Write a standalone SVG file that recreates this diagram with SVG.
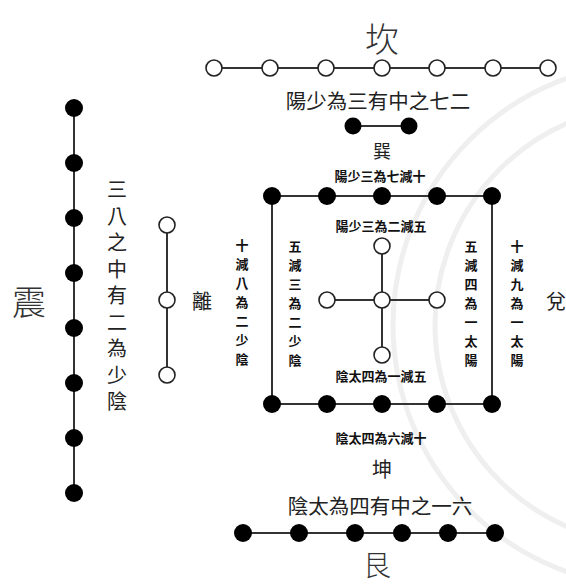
<svg xmlns="http://www.w3.org/2000/svg" width="566" height="586" viewBox="0 0 566 586">
<style>
.ln{stroke:#333;stroke-width:2;fill:none}
.o{fill:#fff;stroke:#222;stroke-width:1.6}
.f{fill:#000;stroke:none}
.big{font-family:"Noto Sans CJK TC","Noto Sans CJK SC",sans-serif;font-weight:300;fill:#333;text-anchor:middle;dominant-baseline:central}
.mid{font-family:"Noto Sans CJK TC","Noto Sans CJK SC",sans-serif;font-weight:400;fill:#222;text-anchor:middle;dominant-baseline:central}
.sm{font-family:"Noto Sans CJK TC","Noto Sans CJK SC",sans-serif;font-weight:700;font-size:13px;fill:#111;text-anchor:middle;dominant-baseline:central}
.wm{fill:none;stroke:#efefef;stroke-width:5}
</style>
<rect width="566" height="586" fill="#fff"/>
<g id="watermark">
<circle class="wm" cx="655" cy="325" r="220"/>
<circle class="wm" cx="655" cy="325" r="262"/>
</g>
<g id="connectors">
<line class="ln" x1="214" y1="68" x2="548" y2="68"/>
<line class="ln" x1="353" y1="126" x2="409" y2="126"/>
<rect class="ln" x="272" y="196" width="220" height="208"/>
<line class="ln" x1="382" y1="246" x2="382" y2="355"/>
<line class="ln" x1="327" y1="300" x2="437" y2="300"/>
<line class="ln" x1="74" y1="108" x2="74" y2="493"/>
<line class="ln" x1="167" y1="225" x2="167" y2="375"/>
<line class="ln" x1="243" y1="533" x2="495" y2="533"/>
</g>
<g id="kan">
<text class="big" x="382" y="37" font-size="34">坎</text>
<circle class="o" cx="214" cy="68" r="8"/>
<circle class="o" cx="270" cy="68" r="8"/>
<circle class="o" cx="326" cy="68" r="8"/>
<circle class="o" cx="382" cy="68" r="8"/>
<circle class="o" cx="437" cy="68" r="8"/>
<circle class="o" cx="493" cy="68" r="8"/>
<circle class="o" cx="548" cy="68" r="8"/>
<text class="mid" x="378" y="100" font-size="20.5">陽少為三有中之七二</text>
</g>
<g id="xun">
<circle class="f" cx="353" cy="126" r="8.5"/>
<circle class="f" cx="409" cy="126" r="8.5"/>
<text class="mid" x="382" y="150" font-size="18">巽</text>
<text class="sm" x="380" y="175">陽少三為七減十</text>
</g>
<g id="square">
<circle class="f" cx="272" cy="196" r="9"/>
<circle class="f" cx="327" cy="196" r="9"/>
<circle class="f" cx="382" cy="196" r="9"/>
<circle class="f" cx="437" cy="196" r="9"/>
<circle class="f" cx="492" cy="196" r="9"/>
<circle class="f" cx="272" cy="404" r="9"/>
<circle class="f" cx="327" cy="404" r="9"/>
<circle class="f" cx="382" cy="404" r="9"/>
<circle class="f" cx="437" cy="404" r="9"/>
<circle class="f" cx="492" cy="404" r="9"/>
</g>
<g id="center">
<text class="sm" x="381" y="225">陽少三為二減五</text>
<circle class="o" cx="382" cy="246" r="8"/>
<circle class="o" cx="327" cy="300" r="8"/>
<circle class="o" cx="382" cy="300" r="8"/>
<circle class="o" cx="437" cy="300" r="8"/>
<circle class="o" cx="382" cy="355" r="8"/>
<text class="sm" x="381" y="375">陰太四為一減五</text>
<text class="sm" x="295"><tspan x="295" y="245">五</tspan><tspan x="295" y="264">減</tspan><tspan x="295" y="283">三</tspan><tspan x="295" y="302">為</tspan><tspan x="295" y="321">二</tspan><tspan x="295" y="340">少</tspan><tspan x="295" y="359">陰</tspan></text>
<text class="sm" x="471"><tspan x="471" y="245">五</tspan><tspan x="471" y="264">減</tspan><tspan x="471" y="283">四</tspan><tspan x="471" y="302">為</tspan><tspan x="471" y="321">一</tspan><tspan x="471" y="340">太</tspan><tspan x="471" y="359">陽</tspan></text>
</g>
<g id="dui">
<text class="sm" x="517"><tspan x="517" y="245">十</tspan><tspan x="517" y="264">減</tspan><tspan x="517" y="283">九</tspan><tspan x="517" y="302">為</tspan><tspan x="517" y="321">一</tspan><tspan x="517" y="340">太</tspan><tspan x="517" y="359">陽</tspan></text>
<text class="mid" x="556" y="300" font-size="20">兌</text>
</g>
<g id="li">
<circle class="o" cx="167" cy="225" r="8"/>
<circle class="o" cx="167" cy="300" r="8"/>
<circle class="o" cx="167" cy="375" r="8"/>
<text class="mid" x="202" y="300" font-size="20">離</text>
<text class="sm" x="242"><tspan x="242" y="244">十</tspan><tspan x="242" y="263">減</tspan><tspan x="242" y="282">八</tspan><tspan x="242" y="301">為</tspan><tspan x="242" y="320">二</tspan><tspan x="242" y="339">少</tspan><tspan x="242" y="358">陰</tspan></text>
</g>
<g id="zhen">
<circle class="f" cx="74" cy="108" r="9"/>
<circle class="f" cx="74" cy="163" r="9"/>
<circle class="f" cx="74" cy="218" r="9"/>
<circle class="f" cx="74" cy="273" r="9"/>
<circle class="f" cx="74" cy="328" r="9"/>
<circle class="f" cx="74" cy="383" r="9"/>
<circle class="f" cx="74" cy="438" r="9"/>
<circle class="f" cx="74" cy="493" r="9"/>
<text class="big" x="29" y="300" font-size="34">震</text>
<text class="mid" x="117" font-size="20"><tspan x="117" y="188">三</tspan><tspan x="117" y="214.5">八</tspan><tspan x="117" y="241">之</tspan><tspan x="117" y="267.5">中</tspan><tspan x="117" y="294">有</tspan><tspan x="117" y="320.5">二</tspan><tspan x="117" y="347">為</tspan><tspan x="117" y="373.5">少</tspan><tspan x="117" y="400">陰</tspan></text>
</g>
<g id="kun">
<text class="sm" x="381" y="437">陰太四為六減十</text>
<text class="mid" x="382" y="468" font-size="20">坤</text>
<text class="mid" x="380" y="505" font-size="20.5">陰太為四有中之一六</text>
</g>
<g id="gen">
<circle class="f" cx="243" cy="533" r="9"/>
<circle class="f" cx="299" cy="533" r="9"/>
<circle class="f" cx="355" cy="533" r="9"/>
<circle class="f" cx="402" cy="533" r="9"/>
<circle class="f" cx="448" cy="533" r="9"/>
<circle class="f" cx="495" cy="533" r="9"/>
<text class="big" x="377" y="564" font-size="28">艮</text>
</g>
</svg>
